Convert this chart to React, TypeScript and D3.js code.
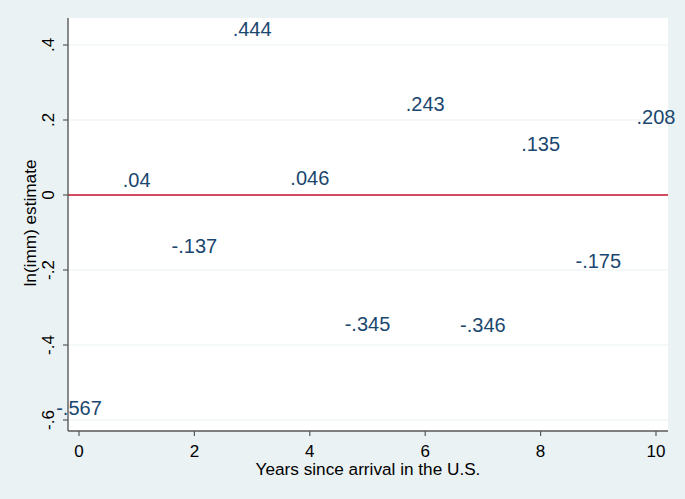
import React from "react";
import * as d3 from "d3";

const years = [0, 1, 2, 3, 4, 5, 6, 7, 8, 9, 10];
const estimates = [-0.567, 0.04, -0.137, 0.444, 0.046, -0.345, 0.243, -0.346, 0.135, -0.175, 0.208];
const estimateLabels = ["-.567", ".04", "-.137", ".444", ".046", "-.345", ".243", "-.346", ".135", "-.175", ".208"];
const xTicks = [0, 2, 4, 6, 8, 10];
const yTicks = [-0.6, -0.4, -0.2, 0, 0.2, 0.4];
const yTickLabels = ["-.6", "-.4", "-.2", "0", ".2", ".4"];

const W = 685;
const H = 499;
const left = 68;
const right = 668;
const top = 18;
const bottom = 431;

export default function App() {
  const x = d3.scaleLinear().domain([0, 10]).range([79, 656]);
  const y = d3.scaleLinear().domain([-0.6, 0.4]).range([420, 45]);
  const font = "Arial, 'Liberation Sans', Helvetica, sans-serif";
  return (
    <svg width={W} height={H} style={{ position: "absolute", left: 0, top: 0, display: "block" }}>
      <rect x={0} y={0} width={W} height={H} fill="#eaf2f3" />
      <rect x={left} y={top} width={right - left} height={bottom - top} fill="#ffffff" />
      {yTicks.map((t) => (
        <line key={"g" + t} x1={left} x2={right} y1={y(t)} y2={y(t)} stroke="#eaf2f3" strokeWidth={1.2} />
      ))}
      <line x1={left} x2={right} y1={y(0)} y2={y(0)} stroke="#c8102e" strokeWidth={1.6} />
      {years.map((yr, i) => (
        <text
          key={"l" + yr}
          x={x(yr)}
          y={y(estimates[i])}
          textAnchor="middle"
          dominantBaseline="central"
          fontFamily={font}
          fontSize={20}
          fill="#1a476f"
        >
          {estimateLabels[i]}
        </text>
      ))}
      <line x1={left} x2={left} y1={top} y2={bottom} stroke="#595959" strokeWidth={1.4} />
      <line x1={left} x2={right} y1={bottom} y2={bottom} stroke="#595959" strokeWidth={1.4} />
      {yTicks.map((t, i) => (
        <g key={"yt" + t}>
          <line x1={left - 5} x2={left} y1={y(t)} y2={y(t)} stroke="#595959" strokeWidth={1.2} />
          <text
            transform={`translate(${48},${y(t)}) rotate(-90)`}
            textAnchor="middle"
            dominantBaseline="central"
            fontFamily={font}
            fontSize={17}
            fill="#000"
          >
            {yTickLabels[i]}
          </text>
        </g>
      ))}
      {xTicks.map((t) => (
        <g key={"xt" + t}>
          <line x1={x(t)} x2={x(t)} y1={bottom} y2={bottom + 5} stroke="#595959" strokeWidth={1.2} />
          <text x={x(t)} y={451} textAnchor="middle" dominantBaseline="central" fontFamily={font} fontSize={17} fill="#000">
            {t}
          </text>
        </g>
      ))}
      <text
        transform={`translate(${30},${223}) rotate(-90)`}
        textAnchor="middle"
        dominantBaseline="central"
        fontFamily={font}
        fontSize={17.2}
        fill="#000"
      >
        ln(imm) estimate
      </text>
      <text x={(left + right) / 2} y={469} textAnchor="middle" dominantBaseline="central" fontFamily={font} fontSize={17.2} fill="#000">
        Years since arrival in the U.S.
      </text>
    </svg>
  );
}
